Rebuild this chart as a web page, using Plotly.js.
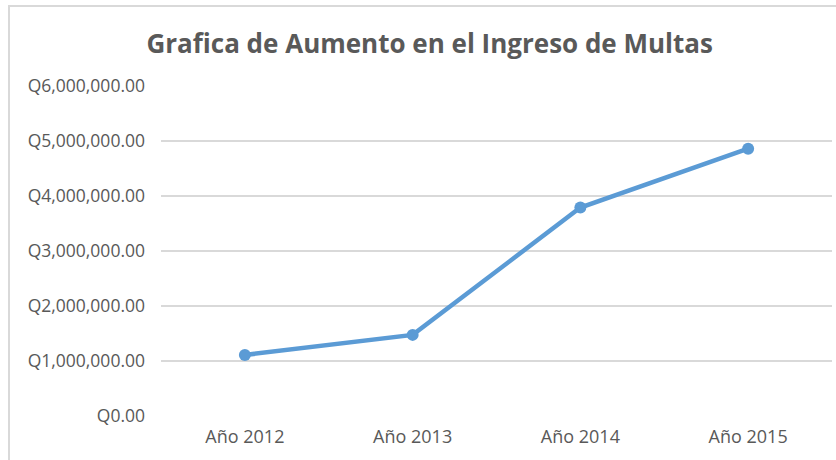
<!DOCTYPE html>
<html>
<head>
<meta charset="utf-8">
<script src="https://cdn.plot.ly/plotly-3.0.1.min.js"></script>
<style>
html,body{margin:0;padding:0;background:#fff;}
#chart{width:836px;height:460px;position:absolute;left:0;top:0;}
#frame{position:absolute;left:8px;top:5px;width:900px;height:520px;border:2px solid #d9d9d9;pointer-events:none;}
</style>
</head>
<body>
<div id="chart"></div>
<div id="frame"></div>
<script>
const categories = ["Año 2012", "Año 2013", "Año 2014", "Año 2015"];
const ingresos = [1110000, 1475000, 3790000, 4860000];
const tickValues = [0, 1000000, 2000000, 3000000, 4000000, 5000000, 6000000];
const tickLabels = ["Q0.00", "Q1,000,000.00", "Q2,000,000.00", "Q3,000,000.00", "Q4,000,000.00", "Q5,000,000.00", "Q6,000,000.00"];
const chartTitle = "Grafica de Aumento en el Ingreso de Multas";

const fam = "'Open Sans', sans-serif";
Plotly.newPlot("chart", [{
  x: categories,
  y: ingresos,
  type: "scatter",
  mode: "lines+markers",
  line: {color: "#5B9BD5", width: 4.5},
  marker: {color: "#5B9BD5", size: 12},
  hoverinfo: "skip"
}], {
  width: 836, height: 460,
  margin: {l: 161, r: 4, t: 86, b: 44},
  paper_bgcolor: "#fff", plot_bgcolor: "#fff",
  font: {family: fam, color: "#595959"},
  title: {text: "<b>" + chartTitle + "</b>", x: 0.514, xanchor: "center", y: 0.905, yanchor: "middle",
          font: {size: 26, color: "#595959", family: fam}},
  xaxis: {type: "category", range: [-0.5, 3.5], showgrid: false, zeroline: false, showline: false, ticks: "",
          ticklabelstandoff: 8, tickfont: {size: 18, color: "#595959"}, fixedrange: true},
  yaxis: {range: [0, 6000000], tickvals: tickValues, ticktext: tickLabels, showgrid: true,
          gridcolor: "#d9d9d9", gridwidth: 1.3, zeroline: false, showline: false, ticks: "",
          ticklabelstandoff: 15, tickfont: {size: 17.5, color: "#595959"}, fixedrange: true},
  showlegend: false
}, {staticPlot: true});
</script>
</body>
</html>
